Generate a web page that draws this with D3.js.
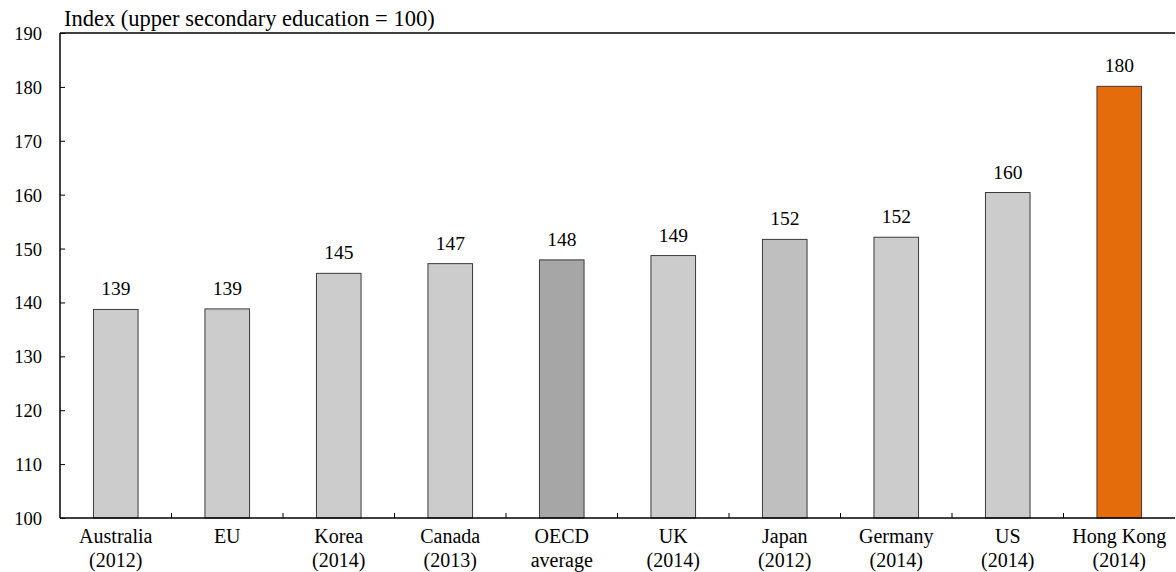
<!DOCTYPE html>
<html>
<head>
<meta charset="utf-8">
<script src="https://cdn.jsdelivr.net/npm/d3@7"></script>
<style>
  body { margin: 0; background: #fff; }
  svg { display: block; font-family: "Liberation Serif", "Times New Roman", serif; }
</style>
</head>
<body>
<div id="chart"></div>
<script>
// data
const categories = ["Australia|(2012)", "EU", "Korea|(2014)", "Canada|(2013)", "OECD|average",
                    "UK|(2014)", "Japan|(2012)", "Germany|(2014)", "US|(2014)", "Hong Kong|(2014)"];
const values = [138.7, 138.8, 145.4, 147.2, 147.9, 148.7, 151.7, 152.1, 160.4, 180.1];
const valueLabels = ["139", "139", "145", "147", "148", "149", "152", "152", "160", "180"];
const barColors = ["#cccccc", "#cccccc", "#cccccc", "#cccccc", "#a6a6a6",
                   "#cccccc", "#bfbfbf", "#cccccc", "#cccccc", "#e46c0a"];
const yTicks = [100, 110, 120, 130, 140, 150, 160, 170, 180, 190];

const W = 1176, H = 572;
const margin = {top: 33, right: 1, bottom: 54, left: 60};
const width = W - margin.left - margin.right;
const height = H - margin.top - margin.bottom;

const svg = d3.select("#chart").append("svg")
    .attr("width", W)
    .attr("height", H);

svg.append("text")
    .attr("x", 64)
    .attr("y", 26)
    .attr("font-size", 22.5)
    .text("Index (upper secondary education = 100)");

const g = svg.append("g")
    .attr("transform", "translate(" + margin.left + "," + margin.top + ")");

const xScale = d3.scaleBand().domain(d3.range(categories.length)).range([0, width])
    .paddingInner(0.6).paddingOuter(0.3);
const yScale = d3.scaleLinear().domain([100, 190]).range([height, 0]);

// bars
g.selectAll(".bar")
    .data(values)
    .join("rect")
    .attr("class", "bar")
    .attr("x", (d, i) => xScale(i))
    .attr("y", d => yScale(d))
    .attr("width", xScale.bandwidth())
    .attr("height", d => yScale(100) - yScale(d))
    .attr("fill", (d, i) => barColors[i])
    .attr("stroke", "#3a3a3a")
    .attr("stroke-width", 1);

// value labels
g.selectAll(".val")
    .data(values)
    .join("text")
    .attr("class", "val")
    .attr("x", (d, i) => xScale(i) + xScale.bandwidth() / 2)
    .attr("y", d => yScale(d) - 14)
    .attr("text-anchor", "middle")
    .attr("font-size", 19.5)
    .text((d, i) => valueLabels[i]);

// y axis (ticks inside)
const yAxis = g.append("g").attr("class", "yAxisG")
    .call(d3.axisRight(yScale).tickValues(yTicks).tickSize(5).tickFormat(d3.format("d")));
yAxis.select(".domain").remove();
yAxis.selectAll("line").attr("stroke", "#000");
yAxis.selectAll("text")
    .attr("x", -18)
    .attr("dy", "0.35em")
    .attr("text-anchor", "end")
    .attr("font-size", 18.5)
    .attr("font-family", "Liberation Serif, serif")
    .attr("fill", "#000");

// frame: left, top, bottom
g.append("line").attr("x1", 0).attr("x2", 0).attr("y1", 0).attr("y2", height)
    .attr("stroke", "#000").attr("stroke-width", 1.5);
g.append("line").attr("x1", 0).attr("x2", width).attr("y1", 0).attr("y2", 0)
    .attr("stroke", "#000").attr("stroke-width", 1.5);
g.append("line").attr("x1", 0).attr("x2", width).attr("y1", height).attr("y2", height)
    .attr("stroke", "#000").attr("stroke-width", 1.5);

// category separator ticks on the bottom axis
const step = xScale.step();
g.selectAll(".sep")
    .data(d3.range(1, categories.length))
    .join("line")
    .attr("class", "sep")
    .attr("x1", d => xScale(d) - step * 0.3)
    .attr("x2", d => xScale(d) - step * 0.3)
    .attr("y1", height)
    .attr("y2", height - 5)
    .attr("stroke", "#000");

// category labels
const cat = g.selectAll(".cat")
    .data(categories)
    .join("text")
    .attr("class", "cat")
    .attr("x", (d, i) => xScale(i) + xScale.bandwidth() / 2)
    .attr("y", height + 25)
    .attr("text-anchor", "middle")
    .attr("font-size", 20);
cat.each(function(d) {
    const parts = d.split("|");
    const t = d3.select(this);
    parts.forEach((p, k) => {
        t.append("tspan")
            .attr("x", t.attr("x"))
            .attr("dy", k === 0 ? 0 : 24)
            .text(p);
    });
});
</script>
</body>
</html>
